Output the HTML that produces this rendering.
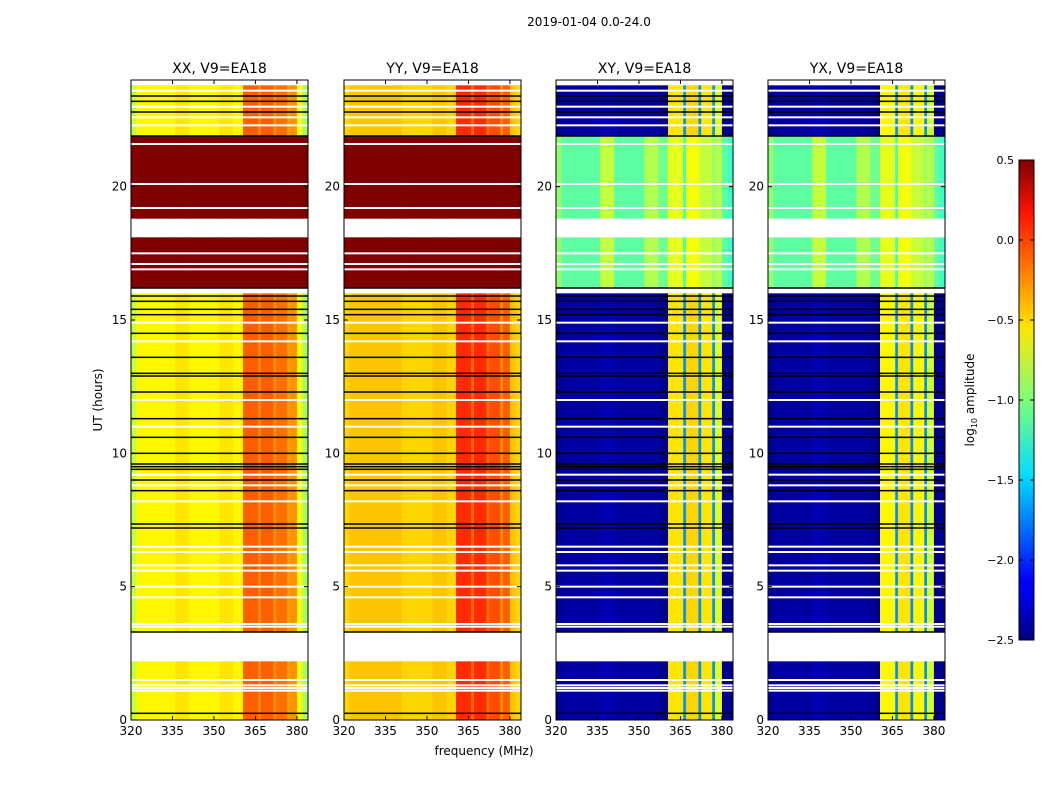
<!DOCTYPE html>
<html><head><meta charset="utf-8"><style>
body{margin:0;background:#fff;}
svg text{font-family:"DejaVu Sans","Liberation Sans",sans-serif;fill:#000;}
</style></head><body>
<svg id="fig" width="1050" height="800" xmlns="http://www.w3.org/2000/svg">
<defs><linearGradient id="jet" x1="0" y1="1" x2="0" y2="0">
<stop offset="0" stop-color="#00007f"/><stop offset="0.11" stop-color="#0000ff"/><stop offset="0.125" stop-color="#0000ff"/>
<stop offset="0.34" stop-color="#00dcff"/><stop offset="0.5" stop-color="#7dff7a"/><stop offset="0.65" stop-color="#ffe600"/>
<stop offset="0.89" stop-color="#ff1200"/><stop offset="1" stop-color="#7f0000"/></linearGradient></defs>
<text x="589" y="26" font-size="12" text-anchor="middle">2019-01-04 0.0-24.0</text>
<text x="484" y="755" font-size="12" text-anchor="middle">frequency (MHz)</text>
<text x="102" y="400" font-size="12" text-anchor="middle" transform="rotate(-90 102 400)">UT (hours)</text>
<g id="panels"></g>
<g id="cbar"></g>
</svg>
<script>
const panelTitles = ["XX, V9=EA18","YY, V9=EA18","XY, V9=EA18","YX, V9=EA18"];
const freqEdges = [320,322,336,341,352,357,360.5,366,367,371.5,372.5,376.5,377.5,380,382,384];
const xxNormal = [-0.8,-0.6,-0.55,-0.6,-0.55,-0.6,-0.15,-0.3,-0.15,-0.3,-0.2,-0.35,-0.3,-0.65,-0.9];
const yyNormal = [-0.5,-0.45,-0.45,-0.5,-0.45,-0.5,0.0,-0.2,0.0,-0.2,-0.1,-0.3,-0.15,-0.45,-0.5];
const xyNormal = [-2.45,-2.4,-2.35,-2.4,-2.4,-2.45,-0.55,-1.7,-0.5,-1.7,-0.55,-1.7,-0.7,-2.45,-2.45];
const yxNormal = [-2.45,-2.4,-2.35,-2.4,-2.4,-2.45,-0.6,-1.7,-0.55,-1.7,-0.6,-1.7,-0.75,-2.45,-2.45];
const xxSat = [0.5,0.5,0.5,0.5,0.5,0.5,0.5,0.5,0.5,0.5,0.5,0.5,0.5,0.5,0.5];
const yySat = [0.5,0.5,0.5,0.5,0.5,0.5,0.5,0.5,0.5,0.5,0.5,0.5,0.5,0.5,0.5];
const xySat = [-0.95,-1.1,-0.8,-1.1,-0.85,-1.05,-0.7,-1.2,-0.65,-0.75,-0.8,-0.95,-0.85,-1.1,-1.2];
const yxSat = [-0.95,-1.1,-0.8,-1.1,-0.85,-1.05,-0.7,-1.2,-0.65,-0.75,-0.8,-0.95,-0.85,-1.1,-1.2];
const segStart = [0,2.2,3.3,16.0,16.2,18.1,18.8,21.9,23.8];
const segEnd   = [2.2,3.3,16.0,16.2,18.1,18.8,21.9,23.8,24];
const segType  = ["n","w","n","w","s","w","s","n","w"];
const blackLines = [0.25,3.3,7.2,7.35,8.6,9.0,9.4,9.5,9.6,10.0,10.6,11.3,12.3,12.9,13.0,13.6,14.5,15.2,15.4,15.7,15.9,16.2,21.9,22.8,23.2,23.4];
const whiteLines = [1.1,1.2,1.3,1.5,3.5,3.6,4.6,5.0,5.6,5.8,6.3,6.5,8.2,8.8,9.2,11.0,12.0,14.2,14.9,16.9,17.1,17.5,19.2,20.1,21.6,22.3,22.6,23.0,23.6];
const xTicks = [320,335,350,365,380];
const yTicks = [0,5,10,15,20];
const cbTicks = [0.5,0.0,-0.5,-1.0,-1.5,-2.0,-2.5];
const cbLabels = ["0.5","0.0","\u22120.5","\u22121.0","\u22121.5","\u22122.0","\u22122.5"];
const normalVals=[xxNormal,yyNormal,xyNormal,yxNormal], satVals=[xxSat,yySat,xySat,yxSat];
const panelX=[131,344,556,768], PW=177, PT=80, PB=720;
const VMIN=-2.5, VMAX=0.5;
const NS="http://www.w3.org/2000/svg";
function mk(tag,attrs,parent){const e=document.createElementNS(NS,tag);for(const k in attrs)e.setAttribute(k,attrs[k]);parent.appendChild(e);return e;}
function jet(v){let t=(v-VMIN)/(VMAX-VMIN);t=Math.max(0,Math.min(1,t));
 const r=Math.max(0,Math.min(1,1.5-Math.abs(4*t-3))),g=Math.max(0,Math.min(1,1.5-Math.abs(4*t-2))),b=Math.max(0,Math.min(1,1.5-Math.abs(4*t-1)));
 return `rgb(${Math.round(r*255)},${Math.round(g*255)},${Math.round(b*255)})`;}
const yS=h=>PB-(h/24)*(PB-PT);
const panels=document.getElementById('panels');
panelX.forEach((px,pi)=>{
 const xS=f=>px+(f-320)/(384-320)*PW;
 const g=mk('g',{},panels);
 
 
 const hm=mk('g',{},g);
 
 
 segStart.forEach((s,si)=>{
  const e=segEnd[si],tp=segType[si];
  if(tp==="w")return;
  const vals=tp==="s"?satVals[pi]:normalVals[pi];
  for(let b=0;b<freqEdges.length-1;b++){
   const c=mk('rect',{x:xS(freqEdges[b]),y:yS(e),width:xS(freqEdges[b+1])-xS(freqEdges[b])+0.3,height:yS(s)-yS(e),fill:jet(vals[b])},hm);
   
   
  }
 });
 whiteLines.forEach(h=>{const r=mk('rect',{x:px,y:yS(h)-1,width:PW,height:2,fill:'#fff'},hm);
  
  });
 blackLines.forEach(h=>{const r=mk('rect',{x:px,y:yS(h)-0.75,width:PW,height:1.5,fill:'#000'},hm);
  
  });
 const fr=mk('rect',{x:px,y:PT,width:PW,height:PB-PT,fill:'none',stroke:'#000','stroke-width':1},g);
 
 
 const t=mk('text',{x:px+PW/2,y:PT-7,'font-size':14,'text-anchor':'middle'},g);t.textContent=panelTitles[pi];
 
 
 xTicks.forEach(v=>{const x=xS(v);
  mk('line',{x1:x,x2:x,y1:PB,y2:PB-4,stroke:'#000'},g);mk('line',{x1:x,x2:x,y1:PT,y2:PT+4,stroke:'#000'},g);
  const l=mk('text',{x:x,y:PB+15,'font-size':12,'text-anchor':'middle'},g);l.textContent=v;
  
  });
 yTicks.forEach(v=>{const y=yS(v);
  mk('line',{x1:px,x2:px+4,y1:y,y2:y,stroke:'#000'},g);mk('line',{x1:px+PW,x2:px+PW-4,y1:y,y2:y,stroke:'#000'},g);
  const l=mk('text',{x:px-4,y:y+4,'font-size':12,'text-anchor':'end'},g);l.textContent=v;
  
  });
});
const cb=document.getElementById('cbar'),CX=1019,CW=15,CT=160,CB=640;
mk('rect',{x:CX,y:CT,width:CW,height:CB-CT,fill:'url(#jet)',stroke:'#000'},cb);
cbTicks.forEach((v,i)=>{const y=CB-(v-VMIN)/(VMAX-VMIN)*(CB-CT);
 mk('line',{x1:CX,x2:CX+4,y1:y,y2:y,stroke:'#000'},cb);mk('line',{x1:CX+CW,x2:CX+CW-4,y1:y,y2:y,stroke:'#000'},cb);
 const l=mk('text',{x:CX-5,y:y+4,'font-size':11,'text-anchor':'end'},cb);l.textContent=cbLabels[i];
 
 });
const cl=mk('text',{x:974,y:400,'font-size':12,'text-anchor':'middle',transform:'rotate(-90 974 400)'},cb);
cl.innerHTML='log<tspan font-size="8" dy="3">10</tspan><tspan dy="-3"> amplitude</tspan>';


</script>
</body></html>
